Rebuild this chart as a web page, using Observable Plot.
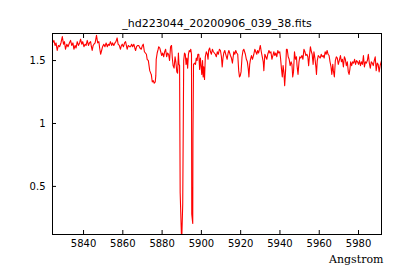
<!DOCTYPE html>
<html>
<head>
<meta charset="utf-8">
<script src="https://cdn.jsdelivr.net/npm/d3@7"></script>
<script src="https://cdn.jsdelivr.net/npm/@observablehq/plot@0.6"></script>
<style>
  html, body { margin: 0; padding: 0; background: #fff; }
</style>
</head>
<body>
<div id="chart"></div>
<script>
const titleText = "_hd223044_20200906_039_38.fits";
const xLabelText = "Angstrom";
const xTicks = [5840, 5860, 5880, 5900, 5920, 5940, 5960, 5980];
const yTicks = [0.5, 1, 1.5];
const xDomain = [5824.2, 5991.7];
const yDomain = [0.118, 1.715];

const wavelength = [
5824.2,5824.9,5825.5,5826.0,5826.6,5827.2,5827.8,5828.5,5829.2,5829.8,
5830.3,5830.8,5831.5,5832.1,5832.8,5833.4,5834.0,5834.6,5835.1,5835.7,
5836.2,5836.8,5837.4,5838.0,5838.5,5839.1,5839.6,5840.2,5840.8,5841.3,
5841.9,5842.5,5843.0,5843.6,5844.0,5844.4,5844.9,5845.3,5845.9,5846.6,
5847.2,5847.8,5848.2,5848.7,5849.2,5849.7,5850.3,5850.9,5851.5,5852.1,
5852.6,5853.1,5853.7,5854.3,5854.8,5855.4,5856.0,5856.5,5857.1,5857.6,
5858.2,5858.8,5859.3,5859.7,5860.3,5860.9,5861.4,5861.8,5862.2,5862.8,
5863.4,5863.9,5864.5,5865.0,5865.6,5866.1,5866.5,5867.0,5867.6,5868.1,
5868.7,5869.4,5870.0,5870.4,5871.0,5871.5,5872.0,5872.4,5873.0,5873.7,
5874.2,5874.5,5875.0,5875.5,5876.0,5876.5,5876.8,5877.0,5877.5,5878.0,
5878.3,5878.8,5879.3,5879.8,5880.3,5880.8,5881.3,5881.8,5882.3,5882.8,
5883.3,5883.8,5884.3,5884.8,5885.2,5885.6,5886.1,5886.6,5887.0,5887.5,
5887.9,5888.3,5888.6,5888.9,5889.2,5889.95,5890.5,5891.0,5891.4,5891.8,
5892.2,5892.6,5893.0,5893.4,5893.8,5894.2,5894.6,5894.96,5895.1,5895.6,
5895.7,5896.0,5896.5,5897.0,5897.4,5897.8,5898.2,5898.7,5899.1,5899.5,
5900.2,5900.6,5900.9,5901.2,5901.6,5902.0,5902.5,5903.0,5903.4,5903.7,
5904.2,5904.6,5905.1,5905.6,5906.1,5906.6,5907.1,5907.6,5908.1,5908.6,
5909.2,5909.7,5910.2,5910.6,5911.0,5911.4,5911.9,5912.4,5913.1,5913.6,
5914.0,5914.4,5914.8,5915.3,5915.8,5916.2,5916.5,5917.0,5917.5,5918.0,
5918.5,5919.0,5919.4,5919.8,5920.2,5920.7,5921.2,5921.6,5922.0,5922.4,
5922.9,5923.4,5923.9,5924.2,5924.6,5925.0,5925.5,5926.0,5926.7,5927.2,
5927.7,5928.2,5928.6,5929.1,5929.6,5930.0,5930.5,5931.0,5931.5,5931.8,
5932.3,5932.8,5933.3,5933.8,5934.4,5934.9,5935.4,5935.9,5936.4,5936.9,
5937.4,5937.9,5938.4,5938.9,5939.4,5939.9,5940.3,5940.8,5941.2,5941.6,
5942.0,5942.4,5942.9,5943.3,5943.7,5944.2,5944.7,5945.2,5945.7,5946.1,
5946.5,5946.9,5947.4,5947.9,5948.4,5948.7,5949.2,5949.7,5950.1,5950.6,
5951.2,5951.7,5952.2,5952.7,5953.2,5953.7,5954.2,5954.6,5955.1,5955.5,
5956.0,5956.4,5956.9,5957.3,5957.8,5958.3,5958.6,5959.0,5959.5,5960.0,
5960.5,5961.0,5961.5,5962.0,5962.5,5963.0,5963.5,5964.0,5964.5,5965.0,
5965.5,5966.0,5966.4,5966.9,5967.2,5967.7,5968.2,5968.7,5969.2,5969.7,
5970.2,5970.8,5971.3,5971.8,5972.3,5972.8,5973.3,5973.8,5974.3,5974.8,
5975.2,5975.6,5976.0,5976.5,5977.0,5977.5,5978.0,5978.5,5979.0,5979.5,
5980.0,5980.5,5981.0,5981.5,5982.0,5982.5,5983.0,5983.5,5984.0,5984.5,
5985.0,5985.5,5986.0,5986.5,5987.0,5987.5,5988.0,5988.5,5989.0,5989.5,
5990.0,5990.5,5991.0,5991.7
];

const flux = [
1.64,1.66,1.62,1.64,1.58,1.62,1.61,1.64,1.69,1.63,
1.65,1.59,1.63,1.61,1.64,1.66,1.62,1.64,1.59,1.62,
1.60,1.65,1.62,1.64,1.67,1.63,1.65,1.61,1.63,1.62,
1.66,1.62,1.64,1.65,1.61,1.58,1.62,1.63,1.64,1.70,
1.64,1.65,1.60,1.55,1.58,1.61,1.63,1.61,1.64,1.61,
1.63,1.62,1.65,1.62,1.64,1.62,1.64,1.65,1.68,1.63,
1.62,1.59,1.62,1.63,1.61,1.64,1.65,1.62,1.59,1.62,
1.61,1.61,1.63,1.61,1.63,1.60,1.58,1.61,1.62,1.62,
1.60,1.59,1.62,1.63,1.57,1.56,1.55,1.51,1.50,1.42,
1.40,1.39,1.33,1.34,1.32,1.33,1.38,1.51,1.56,1.59,
1.61,1.60,1.57,1.54,1.56,1.53,1.57,1.59,1.53,1.56,
1.55,1.50,1.61,1.62,1.52,1.46,1.44,1.53,1.49,1.41,
1.40,1.56,1.47,1.46,0.45,0.05,0.36,1.50,1.56,1.55,
1.47,1.52,1.44,1.55,1.58,1.57,1.59,1.55,0.28,0.205,
0.88,1.47,1.48,1.47,1.52,1.50,1.55,1.55,1.43,1.52,
1.39,1.50,1.37,1.45,1.35,1.53,1.57,1.55,1.51,1.58,
1.60,1.57,1.55,1.59,1.57,1.56,1.55,1.53,1.57,1.55,
1.59,1.58,1.53,1.45,1.52,1.56,1.58,1.55,1.51,1.56,
1.58,1.56,1.54,1.52,1.48,1.53,1.57,1.55,1.58,1.56,
1.55,1.42,1.37,1.38,1.41,1.53,1.58,1.59,1.57,1.55,
1.51,1.49,1.43,1.37,1.47,1.51,1.54,1.51,1.55,1.59,
1.57,1.55,1.58,1.56,1.59,1.62,1.57,1.53,1.49,1.42,
1.55,1.53,1.51,1.55,1.58,1.56,1.57,1.51,1.54,1.57,
1.54,1.56,1.53,1.58,1.56,1.57,1.52,1.43,1.37,1.46,
1.41,1.30,1.43,1.59,1.59,1.53,1.51,1.46,1.49,1.47,
1.37,1.41,1.57,1.51,1.53,1.46,1.39,1.49,1.53,1.52,
1.54,1.51,1.59,1.57,1.54,1.55,1.53,1.46,1.55,1.61,
1.57,1.55,1.47,1.57,1.52,1.45,1.39,1.50,1.54,1.53,
1.52,1.55,1.53,1.54,1.52,1.57,1.55,1.58,1.55,1.54,
1.49,1.45,1.39,1.47,1.42,1.37,1.50,1.53,1.52,1.47,
1.50,1.54,1.49,1.51,1.45,1.53,1.51,1.46,1.49,1.41,
1.39,1.43,1.49,1.46,1.49,1.48,1.51,1.47,1.50,1.49,
1.47,1.50,1.46,1.49,1.47,1.54,1.45,1.49,1.48,1.50,
1.55,1.48,1.44,1.49,1.48,1.46,1.50,1.53,1.42,1.48,
1.47,1.41,1.46,1.50
];

const data = wavelength.map((w, i) => ({w, f: flux[i]}));
const sans = "DejaVu Sans";
const serif = "DejaVu Serif";

const chart = Plot.plot({
  width: 400,
  height: 280,
  marginLeft: 52,
  marginRight: 19,
  marginTop: 33,
  marginBottom: 46,
  style: {fontFamily: sans, fontSize: "10px", background: "#fff", color: "#000"},
  x: {domain: xDomain},
  y: {domain: yDomain},
  marks: [
    Plot.line(data, {x: "w", y: "f", stroke: "#ff0000", strokeWidth: 1.1, clip: true}),
    Plot.frame({stroke: "#000", strokeWidth: 1}),
    Plot.axisX({anchor: "bottom", ticks: xTicks, tickSize: -4, tickPadding: 9, tickFormat: d => String(d), label: null, fontSize: 10}),
    Plot.axisX({anchor: "top", ticks: xTicks, tickSize: -4, tickFormat: () => "", label: null}),
    Plot.axisY({anchor: "left", ticks: yTicks, tickSize: -4, tickPadding: 11, tickFormat: d => String(d), label: null, fontSize: 10}),
    Plot.text([titleText], {frameAnchor: "top", dy: -14, fontSize: 11, fontFamily: sans, fill: "#000"}),
    Plot.text([xLabelText], {frameAnchor: "bottom-right", dx: 2, dy: 28, textAnchor: "end", fontSize: 11, fontFamily: serif, fill: "#000"})
  ]
});
document.getElementById("chart").appendChild(chart);
</script>
</body>
</html>
